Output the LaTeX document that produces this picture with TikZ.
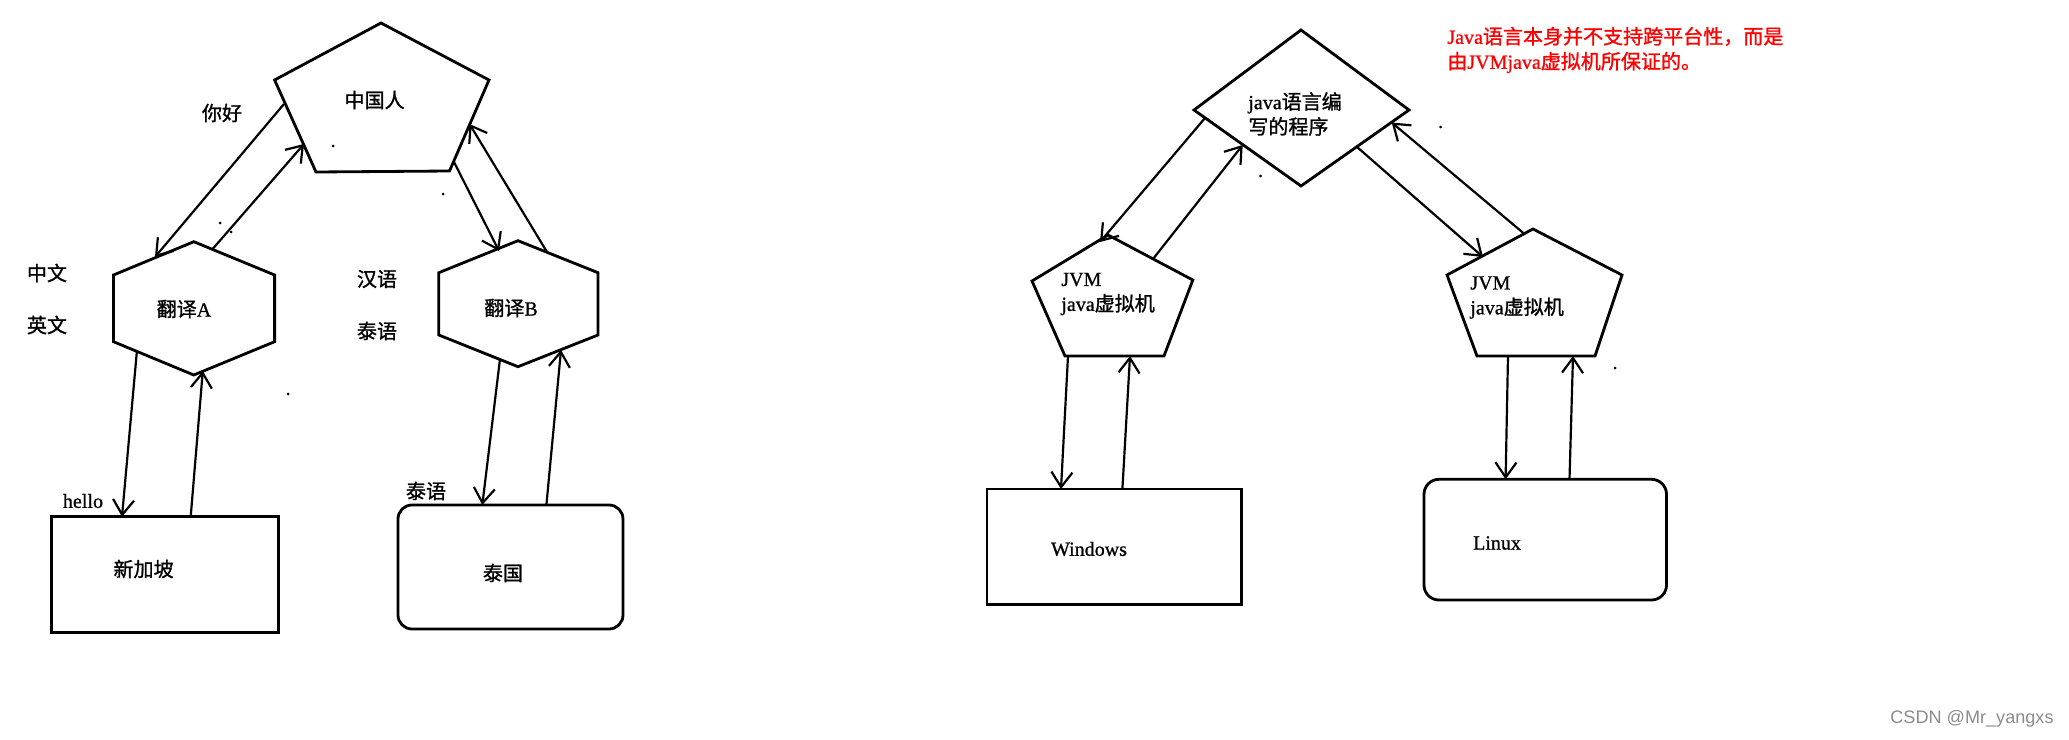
\documentclass[tikz,border=0pt]{standalone}
\usepackage{fontspec}
\setmainfont{Liberation Serif}[FakeBold=0.8, AutoFakeBold=0.8]
\newfontfamily\cjk{Noto Sans CJK SC}[FakeBold=1.2, AutoFakeBold=1.2]
\newfontfamily\wmfont{Liberation Sans}
\newcommand{\zh}[1]{{\cjk #1}}
\usetikzlibrary{arrows.meta}

\begin{document}
\begin{tikzpicture}
    [x=0.02cm, y=-0.02cm,
     every node/.style={inner sep=0pt, align=left, font=\fontsize{11.4}{14.2}\selectfont\bfseries},
     outline/.style={draw=black, line width=1.6pt, line join=miter},
     arr/.style={draw=black, line width=1.25pt, -{Straight Barb[length=3mm, width=4.2mm]}},
     speck/.style={fill=black},
    ]
    \path [fill=white] (0,0) rectangle (2069,740);
    \useasboundingbox (0,0) rectangle (2069,740);

    \draw [outline] (381,23) -- (489,80) -- (449.5,171) -- (316,172) -- (274.6,80) -- cycle;
    \draw [outline] (193.8,241.7) -- (274.6,275) -- (274.6,341.7) -- (193.8,375) -- (113.5,341.7) -- (113.5,275) -- cycle;
    \draw [outline] (518,240.7) -- (598,272.7) -- (598,335) -- (518,366.7) -- (438.8,335) -- (438.8,272.7) -- cycle;
    \draw [outline] (51.6,516.7) rectangle (278.2,632.7);
    \draw [outline, rounded corners=0.28cm] (398,505) rectangle (623,629);

    \draw [outline] (1301,30) -- (1409,110) -- (1301,186) -- (1194,110) -- cycle;
    \draw [outline] (1108,235) -- (1192.8,280) -- (1164,356) -- (1065,356) -- (1032,281) -- cycle;
    \draw [outline] (1533,229) -- (1622,275) -- (1595,356) -- (1477,356) -- (1447,275) -- cycle;
    \draw [outline] (987,489) rectangle (1241.6,604.3);
    \draw [outline, rounded corners=0.3cm] (1424,479.3) rectangle (1666.5,600);

    \node (zhongguoren) at (374.6,100) {\zh{中国人}};
    \node (nihao) at (222,113) {\zh{你好}};
    \node (zhongwen) at (47,273) {\zh{中文}};
    \node (yingwen) at (47,325) {\zh{英文}};
    \node (fanyiA) at (184,309) {\zh{翻译}A};
    \node (hanyu) at (377,279) {\zh{汉语}};
    \node (taiyu-1) at (377,331) {\zh{泰语}};
    \node (fanyiB) at (511,308) {\zh{翻译}B};
    \node (hello) at (83,501) {hello};
    \node (xinjiapo) at (143.6,569) {\zh{新加坡}};
    \node (taiyu-2) at (426,491) {\zh{泰语}};
    \node (taiguo) at (503,573) {\zh{泰国}};

    \node (javaprog) [anchor=west] at (1248,114) {java\zh{语言编}\\\zh{写的程序}};
    \node (note) [anchor=west, text=red] at (1447,50) {Java\zh{语言本身并不支持跨平台性，而是}\\\zh{由}JVMjava\zh{虚拟机所保证的。}};
    \node (jvmwin) [anchor=west] at (1061,294) {JVM\\java\zh{虚拟机}};
    \node (jvmlinux) [anchor=west] at (1470,297.5) {JVM\\java\zh{虚拟机}};
    \node (windows) at (1089,549) {Windows};
    \node (linux) at (1497,543) {Linux};
    \node (csdn) [font=\wmfont\fontsize{10.3}{12}\selectfont, text=black!45] at (1972,719) {CSDN @Mr\_yangxs};

    \coordinate (zgr-a) at (284,104);
    \coordinate (fyA-a) at (155,257);
    \coordinate (fyA-b) at (212.6,249);
    \coordinate (zgr-b) at (304,144);
    \coordinate (zgr-c) at (454,162);
    \coordinate (fyB-c) at (499,251);
    \coordinate (fyB-d) at (547,252);
    \coordinate (zgr-d) at (469.5,124);
    \coordinate (fyA-e) at (137,350);
    \coordinate (xjp-e) at (122,516.7);
    \coordinate (xjp-f) at (190.7,516.7);
    \coordinate (fyA-f) at (202.8,371);
    \coordinate (fyB-g) at (500,359);
    \coordinate (tg-g) at (482.3,505);
    \coordinate (tg-h) at (546.4,505);
    \coordinate (fyB-h) at (561,350);

    \coordinate (prog-a) at (1205,118);
    \coordinate (jvmL-a) at (1100,242);
    \coordinate (jvmL-b) at (1153,259);
    \coordinate (prog-b) at (1242.7,145);
    \coordinate (prog-c) at (1357,147);
    \coordinate (jvmR-c) at (1483,257);
    \coordinate (jvmR-d) at (1524.5,234);
    \coordinate (prog-d) at (1391.7,122.5);
    \coordinate (jvmL-e) at (1068,356);
    \coordinate (win-e) at (1061,489);
    \coordinate (win-f) at (1122.4,489);
    \coordinate (jvmL-f) at (1130,356);
    \coordinate (jvmR-g) at (1508,356);
    \coordinate (lin-g) at (1505.6,479.3);
    \coordinate (lin-h) at (1569.5,479.3);
    \coordinate (jvmR-h) at (1573,356);

    \draw [arr] (zgr-a) -- (fyA-a);
    \draw [arr] (fyA-b) -- (zgr-b);
    \draw [arr] (zgr-c) -- (fyB-c);
    \draw [arr] (fyB-d) -- (zgr-d);
    \draw [arr] (fyA-e) -- (xjp-e);
    \draw [arr] (xjp-f) -- (fyA-f);
    \draw [arr] (fyB-g) -- (tg-g);
    \draw [arr] (tg-h) -- (fyB-h);

    \draw [arr] (prog-a) -- (jvmL-a);
    \draw [arr] (jvmL-b) -- (prog-b);
    \draw [arr] (prog-c) -- (jvmR-c);
    \draw [arr] (jvmR-d) -- (prog-d);
    \draw [arr] (jvmL-e) -- (win-e);
    \draw [arr] (win-f) -- (jvmL-f);
    \draw [arr] (jvmR-g) -- (lin-g);
    \draw [arr] (lin-h) -- (jvmR-h);

    \fill [speck] (333,146) circle [radius=0.03cm];
    \fill [speck] (443,194) circle [radius=0.03cm];
    \fill [speck] (220,223) circle [radius=0.03cm];
    \fill [speck] (231,232) circle [radius=0.03cm];
    \fill [speck] (288,394) circle [radius=0.03cm];
    \fill [speck] (1440.5,127) circle [radius=0.03cm];
    \fill [speck] (1260.6,176) circle [radius=0.03cm];
    \fill [speck] (1615,368) circle [radius=0.03cm];
\end{tikzpicture}
\end{document}
